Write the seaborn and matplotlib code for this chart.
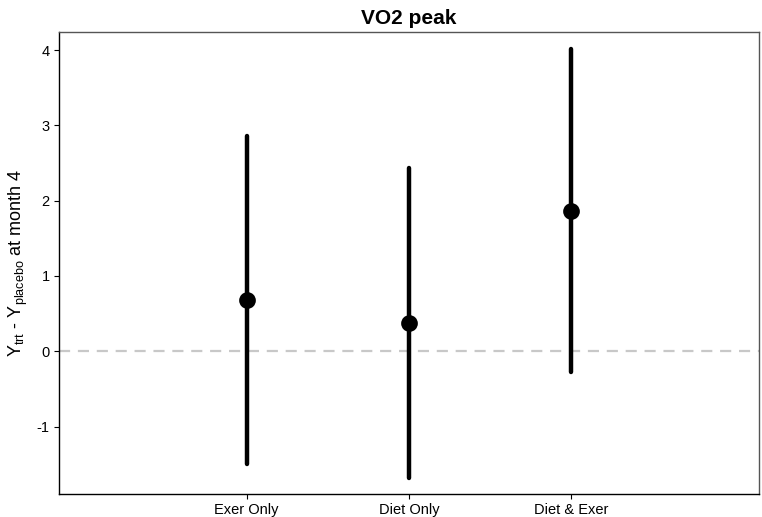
import matplotlib
matplotlib.use("Agg")
import matplotlib.pyplot as plt
import seaborn as sb
import pandas as pd

# treatment effect vs placebo at month 4 (estimate and interval ends)
groups = ["Exer Only", "Diet Only", "Diet & Exer"]
estimate = [0.68, 0.38, 1.86]
lower = [-1.50, -1.68, -0.28]
upper = [2.86, 2.43, 4.02]

sb.set_style("white")
plt.rcParams["font.family"] = ["Liberation Sans", "DejaVu Sans"]
plt.rcParams["mathtext.fontset"] = "custom"
plt.rcParams["mathtext.rm"] = "Liberation Sans"
plt.rcParams["axes.unicode_minus"] = False
plt.rcParams["text.color"] = "black"
plt.rcParams["axes.labelcolor"] = "black"

# long form: lower / estimate / upper per group -> median = estimate, min-max = interval
rows = []
for g, lo, est, hi in zip(groups, lower, estimate, upper):
    for v in (lo, est, hi):
        rows.append((g, v))
df = pd.DataFrame(rows, columns=["group", "value"])

fig = plt.figure(figsize=(7.62, 5.17), dpi=100)
ax = fig.add_axes([58.7 / 762, 1 - 494 / 517, (759 - 58.7) / 762, (494 - 32) / 517])

ax.axhline(0, color="#c8c8c8", lw=1.6, ls=(0, (5, 3.5)), zorder=0)
sb.pointplot(data=df, x="group", y="value", order=groups, estimator="median",
             errorbar=("pi", 100), color="black", linestyle="none",
             markersize=10, err_kws={"linewidth": 3.2, "solid_capstyle": "round"}, ax=ax)

ax.set_xlim(-1.16, 3.16)
ax.set_ylim(-1.895, 4.24)
ax.set_yticks([-1, 0, 1, 2, 3, 4])
ax.set_xlabel("")
ax.set_ylabel(r"$\mathrm{Y_{trt}}$ - $\mathrm{Y_{placebo}}$ at month 4", fontsize=13,
              labelpad=5, color="black")
ax.set_title("VO2 peak", fontsize=15, fontweight="bold", pad=6, color="black")
ax.tick_params(axis="both", direction="out", length=3.5, width=0.8, labelsize=10.5,
               pad=3, left=True, bottom=True, colors="black")
for side in ["left", "bottom"]:
    ax.spines[side].set_color("black")
    ax.spines[side].set_linewidth(1.0)
for side in ["top", "right"]:
    ax.spines[side].set_color("#555555")
    ax.spines[side].set_linewidth(1.0)

fig.savefig("out.png", dpi=100)
